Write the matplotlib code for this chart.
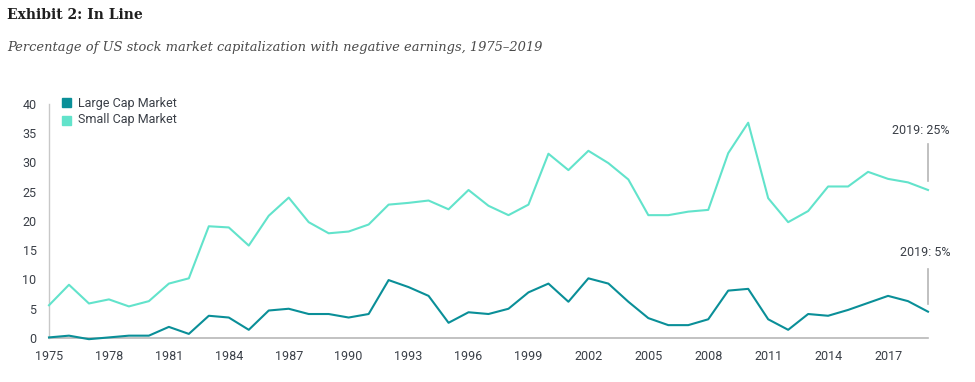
import matplotlib
matplotlib.use("Agg")
import matplotlib.pyplot as plt
from matplotlib.patches import Rectangle

years = list(range(1975, 2020))
large_cap = [0.1, 0.4, -0.2, 0.1, 0.4, 0.4, 1.9, 0.7, 3.8, 3.5, 1.4, 4.7, 5.0, 4.1, 4.1,
             3.5, 4.1, 9.9, 8.7, 7.2, 2.6, 4.4, 4.1, 5.0, 7.8, 9.3, 6.2, 10.2, 9.3, 6.2,
             3.4, 2.2, 2.2, 3.2, 8.1, 8.4, 3.2, 1.4, 4.1, 3.8, 4.8, 6.0, 7.2, 6.3, 4.5]
small_cap = [5.6, 9.1, 5.9, 6.6, 5.4, 6.3, 9.3, 10.2, 19.1, 18.9, 15.8, 20.9, 24.0, 19.8, 17.9,
             18.2, 19.4, 22.8, 23.1, 23.5, 22.0, 25.3, 22.6, 21.0, 22.8, 31.5, 28.7, 32.0, 29.9, 27.1,
             21.0, 21.0, 21.6, 21.9, 31.6, 36.8, 23.9, 19.8, 21.7, 25.9, 25.9, 28.4, 27.2, 26.6, 25.3]
x_ticks = list(range(1975, 2019, 3))
y_ticks = [0, 5, 10, 15, 20, 25, 30, 35, 40]
series_names = ["Large Cap Market", "Small Cap Market"]
annotations = ["2019: 25%", "2019: 5%"]

LARGE = "#0a8f98"
SMALL = "#62e3cb"
TXT = "#3a3f47"

W, H = 975, 382
fig = plt.figure(figsize=(W / 100, H / 100), dpi=100)
ax = fig.add_axes([49 / W, 1 - 338 / H, (928 - 49) / W, (338 - 104) / H])

ax.plot(years, large_cap, color=LARGE, lw=1.5, clip_on=False, zorder=3)
ax.plot(years, small_cap, color=SMALL, lw=1.5, clip_on=False, zorder=3)

ax.set_xlim(1975, 2019)
ax.set_ylim(0, 40)
ax.set_xticks(x_ticks)
ax.set_xticklabels([str(v) for v in x_ticks])
ax.set_yticks(y_ticks)
ax.set_yticklabels([str(v) for v in y_ticks])
ax.tick_params(axis="both", length=0, labelsize=9, colors=TXT, labelfontfamily="Roboto")
ax.tick_params(axis="x", pad=9)
ax.tick_params(axis="y", pad=9)
for s in ["top", "right"]:
    ax.spines[s].set_visible(False)
ax.spines["left"].set_color("#c8c8c8")
ax.spines["bottom"].set_color("#b8b8b8")
ax.spines["left"].set_linewidth(1.0)
ax.spines["bottom"].set_linewidth(1.2)

# legend
for i, (name, col) in enumerate(zip(series_names, [LARGE, SMALL])):
    yy = 103 + 17 * i
    fig.patches.append(Rectangle((62 / W, 1 - (yy + 4.5) / H), 9 / W, 9 / H,
                                 transform=fig.transFigure, color=col, figure=fig))
    fig.text(78 / W, 1 - yy / H, name, fontsize=9, color=TXT, va="center",
             ha="left", family="Roboto")

# annotations at 2019
ax.annotate(annotations[0], xy=(years[-1], small_cap[-1]), xycoords="data",
            xytext=(949 / W, 1 - 130 / H), textcoords="figure fraction",
            ha="right", va="center", fontsize=9, color=TXT, family="Roboto")
ax.plot([years[-1], years[-1]], [26.8, 33.2], color="#b5b5b5", lw=1.2, clip_on=False)
ax.annotate(annotations[1], xy=(years[-1], large_cap[-1]), xycoords="data",
            xytext=(950 / W, 1 - 253 / H), textcoords="figure fraction",
            ha="right", va="center", fontsize=9, color=TXT, family="Roboto")
ax.plot([years[-1], years[-1]], [5.8, 11.8], color="#b5b5b5", lw=1.2, clip_on=False)

fig.text(7 / W, 1 - 15 / H, "Exhibit 2: In Line", fontsize=10, fontweight="bold",
         family="DejaVu Serif", color="#1e1e1e", va="center", ha="left")
fig.text(7 / W, 1 - 48 / H,
         "Percentage of US stock market capitalization with negative earnings, 1975\u20132019",
         fontsize=9.35, style="italic", family="DejaVu Serif", color="#4a4a4a",
         va="center", ha="left")

fig.savefig("out.png", dpi=100)
